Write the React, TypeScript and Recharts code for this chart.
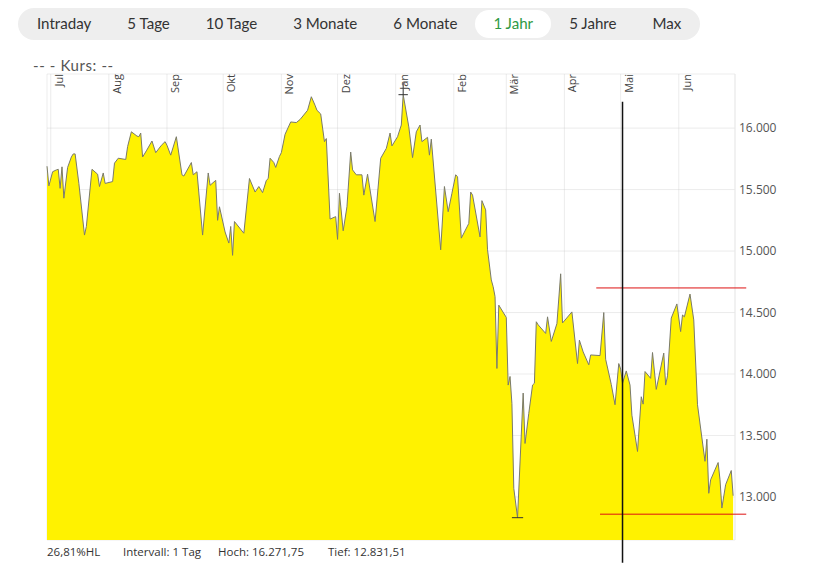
import React from 'react';
import { AreaChart, Area, XAxis, YAxis, CartesianGrid, ReferenceLine } from 'recharts';

// Zeitraum-Buttons oben
const zeitraeume = ['Intraday', '5 Tage', '10 Tage', '3 Monate', '6 Monate', '1 Jahr', '5 Jahre', 'Max'];
const aktiverZeitraum = '1 Jahr';

// Monatsbeschriftung (Tage ab 1. Juli)
const monate = ['Jul', 'Aug', 'Sep', 'Okt', 'Nov', 'Dez', 'Jan', 'Feb', 'Mär', 'Apr', 'Mai', 'Jun'];
const monatsStart = [0, 31, 62, 92, 123, 153, 184, 215, 243, 274, 304, 335];

const yTicks = [13000, 13500, 14000, 14500, 15000, 15500, 16000];

// Kursverlauf [Tag, Kurs]
const kursQ3: [number, number][] = [
  [-2, 15690], [-1, 15530], [1, 15645], [3, 15660], [4, 15665], [5, 15510], [6, 15685], [7, 15430],
  [9, 15680], [11, 15765], [12, 15790], [13, 15790], [15, 15550], [18, 15130], [19, 15200], [22, 15665],
  [25, 15625], [26, 15525], [28, 15635], [29, 15550], [33, 15565], [34, 15715], [36, 15755], [40, 15745],
  [41, 15850], [43, 15970], [46, 15935], [47, 15930], [48, 15960], [49, 15765], [51, 15815], [54, 15895],
  [56, 15800], [59, 15860], [61, 15890], [62, 15860], [64, 15780], [67, 15930], [70, 15620], [71, 15610],
  [75, 15720], [76, 15620], [78, 15645], [81, 15130], [84, 15635], [85, 15535], [88, 15575], [89, 15250],
  [90, 15360],
];
const kursQ4: [number, number][] = [
  [93, 15155], [95, 15065], [96, 15200], [97, 14965], [98, 15240], [103, 15145], [106, 15590], [109, 15480],
  [111, 15525], [113, 15475], [115, 15575], [116, 15590], [117, 15755], [119, 15720], [120, 15680], [122, 15770],
  [123, 15800], [125, 15950], [128, 16050], [131, 16045], [133, 16070], [137, 16145], [139, 16255], [141, 16185],
  [142, 16145], [144, 16115], [146, 15890], [147, 15915], [149, 15260], [152, 15280], [153, 15095], [154, 15470],
  [156, 15165], [158, 15360], [160, 15805], [161, 15660], [163, 15620], [166, 15620], [167, 15455], [169, 15625],
  [173, 15240], [176, 15755], [179, 15835], [181, 15960], [182, 15855],
];
const kursQ1: [number, number][] = [
  [185, 15930], [187, 16025], [188, 16271.75], [191, 16010], [193, 15760], [195, 15970], [197, 16025], [198, 15890],
  [201, 15925], [202, 15780], [203, 15910], [208, 15010], [210, 15525], [212, 15320], [214, 15470], [216, 15620],
  [217, 15605], [219, 15105], [223, 15225], [224, 15480], [225, 15455], [229, 15115], [230, 15410], [232, 15335],
  [233, 15010], [235, 14765], [236, 14710], [237, 14630], [238, 14045], [239, 14560], [243, 14460], [244, 13910],
  [245, 13980], [246, 13760], [247, 13070], [249, 12831.51], [252, 13845], [253, 13435], [255, 13680], [257, 13910],
  [258, 13925], [259, 14425], [260, 14400], [264, 14330], [265, 14465], [267, 14265], [270, 14410], [272, 14815],
  [273, 14415],
];
const kursQ2: [number, number][] = [
  [278, 14505], [281, 14085], [282, 14275], [284, 14180], [287, 14075], [288, 14155], [293, 14150], [295, 14500],
  [296, 14120], [299, 13915], [301, 13750], [303, 14085], [304, 14040], [305, 13925], [307, 14025], [309, 13910],
  [310, 13665], [313, 13370], [315, 13815], [316, 13755], [317, 14020], [320, 13965], [321, 14175], [323, 13875],
  [327, 14170], [328, 13910], [329, 13985], [331, 14455], [334, 14570], [336, 14345], [337, 14480], [338, 14465],
  [341, 14650], [343, 14440], [345, 13750], [349, 13290], [350, 13470], [351, 13030], [352, 13140], [356, 13280],
  [357, 13140], [358, 12910], [360, 13100], [363, 13215], [364, 13010],
];

const hoch = { tag: 188, kurs: 16271.75 };
const tief = { tag: 249, kurs: 12831.51 };
const intervall = '1 Tag';

// Markierungen im Chart
const oberesLimit = 14700;
const unteresLimit = 12860;
const fadenkreuzTag = 305;

const data = [...kursQ3, ...kursQ4, ...kursQ1, ...kursQ2].map(([tag, kurs]) => ({ tag, kurs }));

const fmt = (v: number, dec = 0) => {
  const [i, d] = v.toFixed(dec).split('.');
  const int = i.replace(/\B(?=(\d{3})+(?!\d))/g, '.');
  return d ? `${int},${d}` : int;
};

const MonatTick = (props: any) => {
  const { x, payload } = props;
  const bx = x + 12;
  const idx = monatsStart.indexOf(payload.value);
  return (
    <text
      x={bx}
      y={74}
      transform={`rotate(-90 ${bx} 74)`}
      textAnchor="end"
      fontSize={11}
      fill="#444"
      fontFamily="'Open Sans'"
    >
      {monate[idx]}
    </text>
  );
};

export default function App() {
  const hl = ((hoch.kurs - tief.kurs) / tief.kurs) * 100;
  return (
    <div style={{ position: 'absolute', left: 0, top: 0, width: 822, height: 575, background: '#fff', overflow: 'hidden' }}>
      <div
        style={{
          position: 'absolute', left: 18, top: 8, height: 32, padding: '0 1px',
          display: 'flex', alignItems: 'center', background: '#eeeeee', borderRadius: 16,
          fontFamily: 'Lato', fontSize: 15.1, color: '#333',
        }}
      >
        {zeitraeume.map((z) => (
          <div
            key={z}
            style={{
              padding: '0 18px', height: 28, lineHeight: '27px', borderRadius: 14,
              background: z === aktiverZeitraum ? '#fff' : 'transparent',
              color: z === aktiverZeitraum ? '#2e9a44' : '#333',
              whiteSpace: 'nowrap',
            }}
          >
            {z}
          </div>
        ))}
      </div>

      <div
        style={{
          position: 'absolute', left: 33, top: 56, fontFamily: 'Lato', fontSize: 15,
          letterSpacing: 0.6, color: '#555', whiteSpace: 'pre',
        }}
      >
        -- - Kurs: --
      </div>

      <AreaChart width={822} height={575} data={data} margin={{ top: 54, right: 27, bottom: 35, left: 47 }}>
        <XAxis
          dataKey="tag"
          type="number"
          domain={[-2, 365]}
          ticks={monatsStart}
          interval={0}
          orientation="top"
          height={20}
          axisLine={false}
          tickLine={false}
          tick={<MonatTick />}
        />
        <YAxis
          orientation="right"
          type="number"
          domain={[12650, 16440]}
          allowDataOverflow
          ticks={yTicks}
          width={60}
          axisLine={false}
          tickLine={false}
          tickSize={0}
          tickMargin={4}
          tickFormatter={(v: number) => fmt(v)}
          tick={{ fontSize: 12, fill: '#555', fontFamily: "'Open Sans'" }}
        />
        <Area
          type="linear"
          dataKey="kurs"
          stroke="#7a7a6a"
          strokeWidth={1}
          fill="#fff200"
          fillOpacity={1}
          isAnimationActive={false}
          dot={false}
          activeDot={false}
        />
        <CartesianGrid stroke="rgba(200,200,200,0.35)" />
        <ReferenceLine x={365} stroke="#ececec" />
        <ReferenceLine
          segment={[{ x: hoch.tag - 2.5, y: hoch.kurs }, { x: hoch.tag + 2.5, y: hoch.kurs }]}
          stroke="#333"
          ifOverflow="visible"
        />
        <ReferenceLine
          segment={[{ x: hoch.tag, y: hoch.kurs }, { x: hoch.tag, y: hoch.kurs + 95 }]}
          stroke="#333"
          ifOverflow="visible"
        />
        <ReferenceLine
          segment={[{ x: tief.tag - 3, y: tief.kurs }, { x: tief.tag + 3, y: tief.kurs }]}
          stroke="#333"
          ifOverflow="visible"
        />
        <ReferenceLine
          segment={[{ x: 291, y: oberesLimit }, { x: 371, y: oberesLimit }]}
          stroke="#d11"
          ifOverflow="visible"
        />
        <ReferenceLine
          segment={[{ x: 293, y: unteresLimit }, { x: 371, y: unteresLimit }]}
          stroke="#d11"
          ifOverflow="visible"
        />
        <ReferenceLine
          segment={[{ x: fadenkreuzTag, y: 16215 }, { x: fadenkreuzTag, y: 12465 }]}
          stroke="#111"
          strokeWidth={1.5}
          ifOverflow="visible"
        />
      </AreaChart>

      <div
        style={{
          position: 'absolute', left: 47, top: 544, fontFamily: "'Open Sans'", fontSize: 11.5, color: '#333',
          display: 'flex', whiteSpace: 'pre',
        }}
      >
        <span style={{ width: 76 }}>{fmt(hl, 2)}%HL</span>
        <span style={{ width: 95 }}>Intervall: {intervall}</span>
        <span style={{ width: 110 }}>Hoch: {fmt(hoch.kurs, 2)}</span>
        <span>Tief: {fmt(tief.kurs, 2)}</span>
      </div>
    </div>
  );
}
